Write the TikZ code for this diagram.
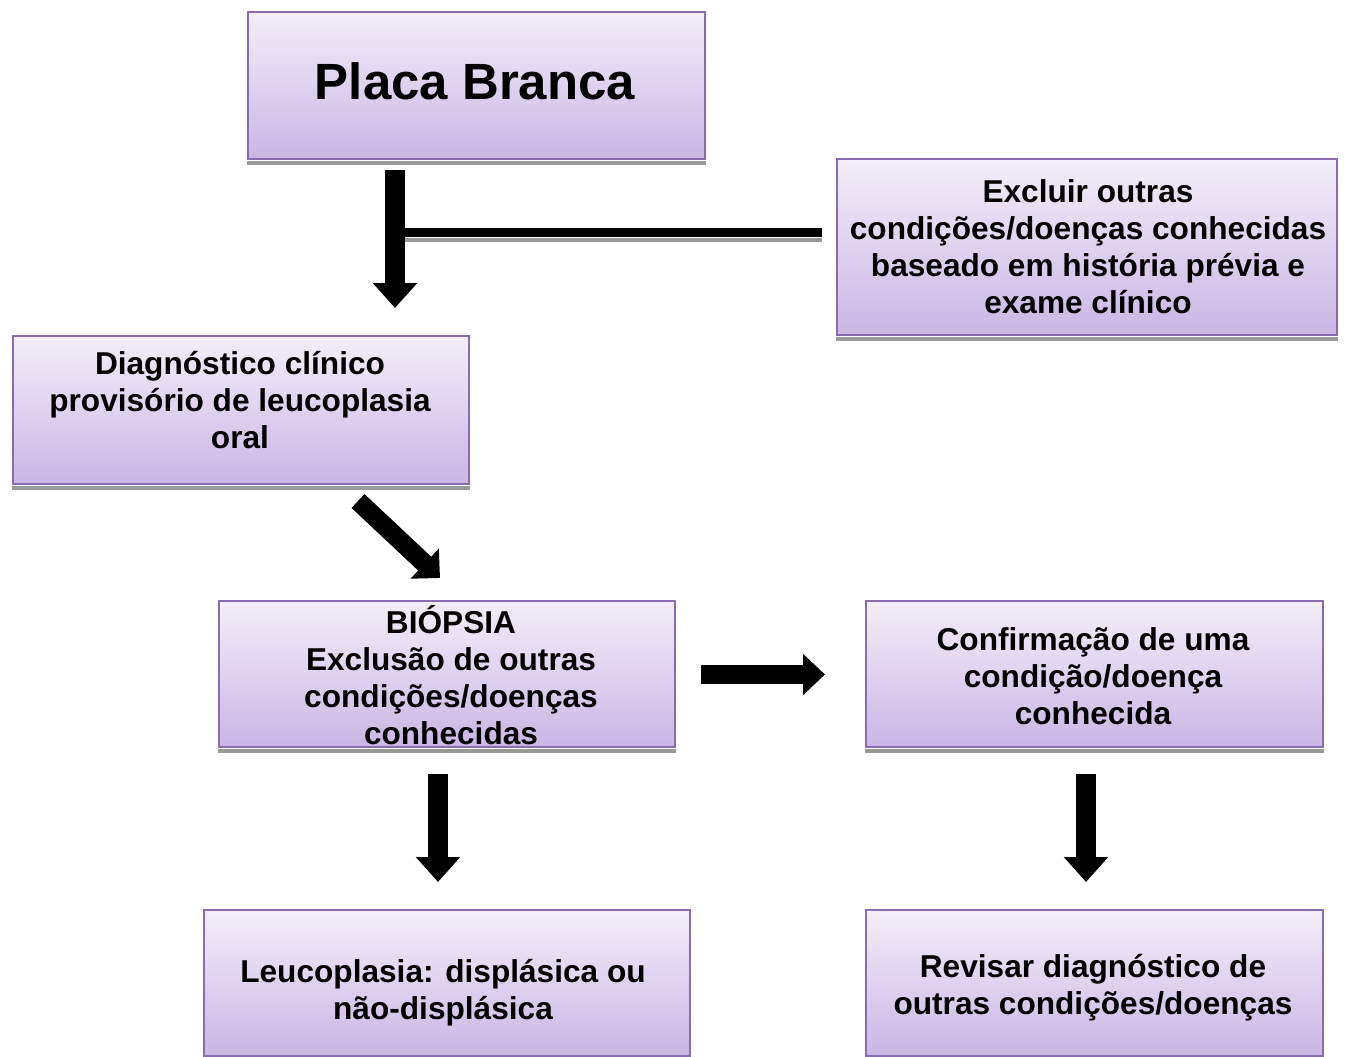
\documentclass[tikz,border=0pt]{standalone}
\usepackage{fontspec}
\setmainfont{Liberation Sans}
\usetikzlibrary{arrows.meta,calc}
\definecolor{boxborder}{HTML}{8A6DB0}
\definecolor{boxtop}{HTML}{F3EEF9}
\definecolor{boxbot}{HTML}{CAB6E4}
\definecolor{shadowgray}{HTML}{999999}
\tikzset{
  box/.style={draw=boxborder, line width=1.3pt, top color=boxtop, bottom color=boxbot,
    inner sep=0pt, anchor=north west, rectangle},
  txt/.style={font=\bfseries\fontsize{18}{21}\selectfont, align=center, inner sep=0pt},
  bigtxt/.style={font=\bfseries\fontsize{29}{34}\selectfont, inner sep=0pt},
  bigarrow/.style={line width=0.4cm, -{Triangle[width=0.86cm,length=0.5cm]}},
  diagarrow/.style={line width=0.38cm, -{Triangle[width=0.8cm,length=0.42cm]}},
  sidearrow/.style={line width=0.38cm, -{Triangle[width=0.8cm,length=0.44cm]}},
  barline/.style={line width=0.18cm},
  shadowband/.style={fill=shadowgray},
}
\begin{document}
\begin{tikzpicture}[x=0.02cm, y=-0.02cm]
\useasboundingbox (0,0) rectangle (1347,1057);

% boxes
\node[box, minimum width=9.14cm, minimum height=2.94cm] (placa) at (247,11) {};
\node[box, minimum width=10cm, minimum height=3.52cm] (excl) at (836,158) {};
\node[box, minimum width=9.12cm, minimum height=2.96cm] (diag) at (12,335) {};
\node[box, minimum width=9.12cm, minimum height=2.92cm] (biop) at (218,600) {};
\node[box, minimum width=9.14cm, minimum height=2.92cm] (conf) at (865,600) {};
\node[box, minimum width=9.72cm, minimum height=2.92cm] (leuco) at (203,909) {};
\node[box, minimum width=9.14cm, minimum height=2.92cm] (revis) at (865,909) {};

% shadows under boxes
\foreach \b in {placa,excl,diag,biop,conf,leuco,revis}{
  \fill[shadowband] ($(\b.south west)+(0,1)$) rectangle ($(\b.south east)+(0,5)$);
}

% texts
\node[bigtxt] (placatxt) at (475,81) {Placa Branca};
\node[txt] (excltxt) at (1088,247) {Excluir outras\\condições/doenças conhecidas\\baseado em história prévia e\\exame clínico};
\node[txt] (diagtxt) at (240,400) {Diagnóstico clínico\\provisório de leucoplasia\\oral};
\node[txt] (bioptxt) at (451,675) {BIÓPSIA\\Exclusão de outras\\condições/doenças\\conhecidas};
\node[txt] (conftxt) at (1093,676) {Confirmação de uma\\condição/doença\\conhecida};
\node[txt] (leucotxt) at (443,993) {Leucoplasia: displásica ou\\não-displásica};
\node[txt] (revistxt) at (1093,988) {Revisar diagnóstico de\\outras condições/doenças};

% connector coordinates
\coordinate (a1s) at (395,170);
\coordinate (a1e) at (395,308);
\coordinate (l1s) at (822,233);
\coordinate (l1e) at (405,233);
\coordinate (a2s) at (358,501);
\coordinate (a2e) at (440,578);
\coordinate (a3s) at (701,674.5);
\coordinate (a3e) at (825,674.5);
\coordinate (a4s) at (438,774);
\coordinate (a4e) at (438,882);
\coordinate (a5s) at (1086,774);
\coordinate (a5e) at (1086,882);

% connectors
\fill[shadowband] (405,238) rectangle (822,242);
\draw[barline] (l1s) -- (l1e);
\draw[bigarrow] (a1s) -- (a1e);
\draw[diagarrow] (a2s) -- (a2e);
\draw[sidearrow] (a3s) -- (a3e);
\draw[bigarrow] (a4s) -- (a4e);
\draw[bigarrow] (a5s) -- (a5e);
\end{tikzpicture}
\end{document}
